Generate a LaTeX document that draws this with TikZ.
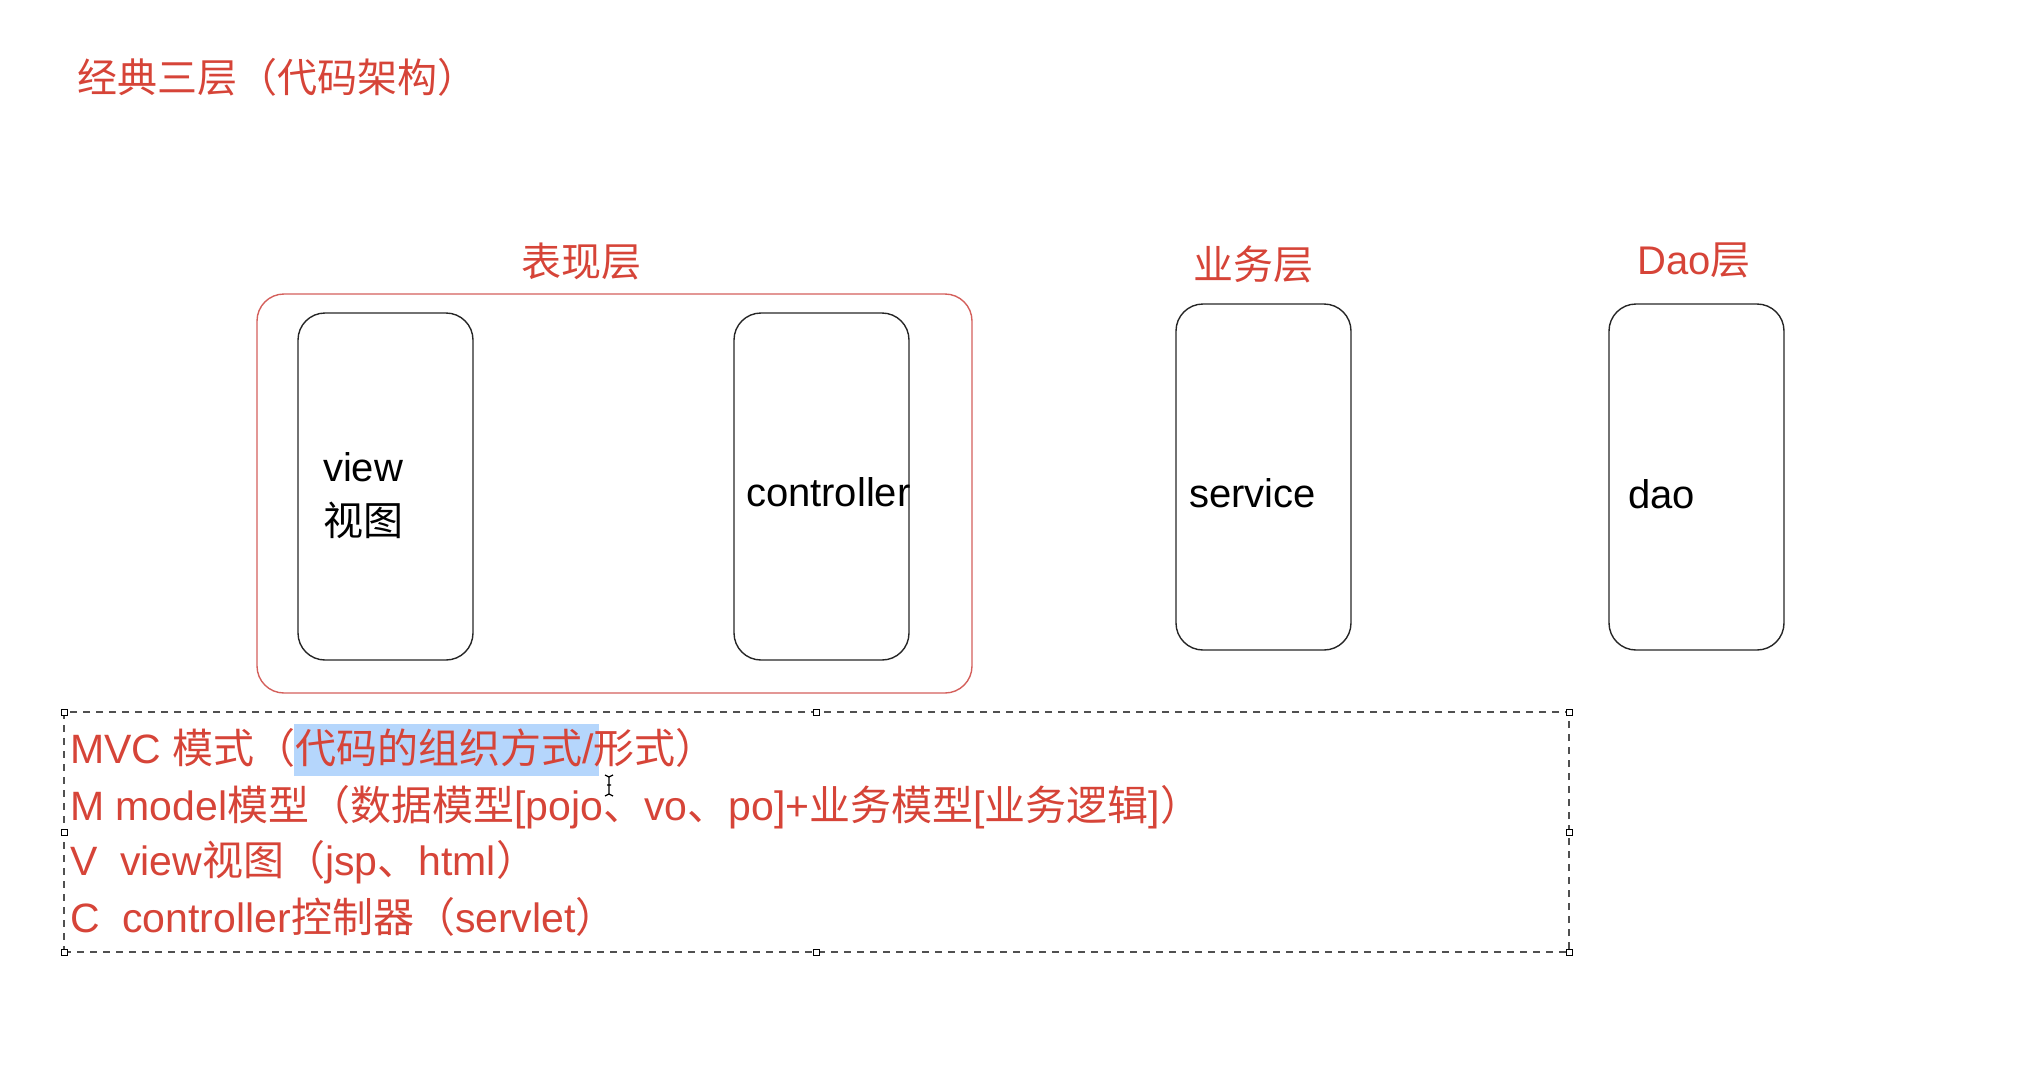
\documentclass[tikz,border=0pt]{standalone}
\usepackage{fontspec}
\setmainfont{Liberation Sans}
\newfontfamily\cjk{Noto Sans CJK SC}
\newcommand\zh[1]{{\cjk #1}}
\definecolor{txtred}{RGB}{214,68,56}
\definecolor{boxred}{RGB}{212,96,92}
\definecolor{hlblue}{RGB}{181,214,252}
\definecolor{dashgray}{RGB}{80,80,80}
\begin{document}
\begin{tikzpicture}[x=1pt,y=-1pt,
  every node/.style={inner sep=0pt, outer sep=0pt},
  bigfont/.style={font=\fontsize{40}{48}\selectfont},
  redtxt/.style={bigfont, text=txtred},
  linetxt/.style={font=\fontsize{41}{49}\selectfont, text=txtred},
  blacktxt/.style={bigfont, text=black},
  layerbox/.style={draw=black!85, line width=1.4pt, rounded corners=27pt, anchor=north west, minimum width=175pt, minimum height=347pt},
  groupbox/.style={draw=boxred, line width=1.4pt, rounded corners=27pt, anchor=north west, minimum width=715pt, minimum height=399pt},
  selbox/.style={draw=dashgray, line width=1.3pt, dash pattern=on 7pt off 6pt, anchor=north west, minimum width=1505pt, minimum height=240pt},
  handle/.style={draw=black, fill=white, line width=1pt, minimum size=6pt},
  hilite/.style={fill=hlblue, anchor=north west, minimum width=305pt, minimum height=52pt}
]
\useasboundingbox (0,0) rectangle (2020,1082);

% title
\node[redtxt, anchor=base west] (title) at (77,92) {\zh{经典三层（代码架构）}};

% presentation group
\node[groupbox] (group) at (257,294) {};
\node[redtxt, anchor=base] (presl) at (581,276) {\zh{表现层}};
\node[redtxt, anchor=base] (busl) at (1253,279) {\zh{业务层}};
\node[redtxt, anchor=base] (daol) at (1694,274) {Dao\zh{层}};

% layer boxes
\node[layerbox] (view) at (298,313) {};
\node[layerbox] (ctrl) at (734,313) {};
\node[layerbox, minimum height=346pt] (serv) at (1176,304) {};
\node[layerbox, minimum height=346pt] (dao) at (1609,304) {};

\node[blacktxt, anchor=base west] (viewt) at (323,481) {view};
\node[blacktxt, anchor=base west] (viewz) at (323,535) {\zh{视图}};
\node[blacktxt, anchor=base west] (ctrlt) at (746,506) {controller};
\node[blacktxt, anchor=base west] (servt) at (1189,507) {service};
\node[blacktxt, anchor=base west] (daot) at (1628,508) {dao};

% selection box
\node[selbox] (sel) at (64,712) {};
\foreach \a in {north west, north, north east, east, south east, south, south west, west}
  \node[handle] at (sel.\a) {};

% highlight
\node[hilite] (hl) at (294,724) {};

% text lines
\node[linetxt, anchor=base west] (l1) at (70,763) {MVC \zh{模式（代码的组织方式}/\zh{形式）}};
\node[linetxt, anchor=base west] (l2) at (70,820) {M model\zh{模型（数据模型}[pojo\zh{、}vo\zh{、}po]+\zh{业务模型}[\zh{业务逻辑}]\zh{）}};
\node[linetxt, anchor=base west] (l3) at (70,875) {V\ \ view\zh{视图（}jsp\zh{、}html\zh{）}};
\node[linetxt, anchor=base west] (l4) at (70,932) {C\ \ controller\zh{控制器（}servlet\zh{）}};

% I-beam cursor
\draw[line width=1.2pt] (605,775) -- (609,777) -- (613,775)
  (609,777) -- (609,794)
  (605,796) -- (609,794) -- (613,796)
  (607,785) -- (611,785);
\end{tikzpicture}
\end{document}
